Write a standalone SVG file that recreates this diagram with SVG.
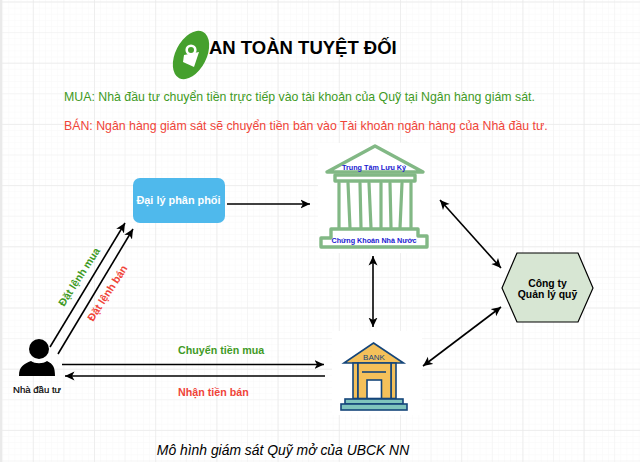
<svg xmlns="http://www.w3.org/2000/svg" width="640" height="462" viewBox="0 0 640 462">
<defs>
<pattern id="minor" width="6.12" height="6.12" patternUnits="userSpaceOnUse" x="2.2" y="1.5"><path d="M6.12 0H0V6.12" fill="none" stroke="#f8f8f8" stroke-width="1"/></pattern>
<pattern id="mid" width="30.6" height="30.6" patternUnits="userSpaceOnUse" x="2.2" y="1.500"><path d="M30.600 0H0V30.600" fill="none" stroke="#f0f0f0" stroke-width="1"/></pattern>
<pattern id="major" width="61.2" height="61.2" patternUnits="userSpaceOnUse" x="32.800" y="1.500"><path d="M61.200 0H0V61.200" fill="none" stroke="#e8e8e8" stroke-width="1"/></pattern>
<marker id="a" markerUnits="userSpaceOnUse" markerWidth="11" markerHeight="10" refX="9.500" refY="5" orient="auto-start-reverse"><path d="M0 0.500L9.500 5L0 9.500L2.500 5Z" fill="#000"/></marker>
</defs>
<style>
text{font-family:"Liberation Sans",Arial,sans-serif}
.b{font-weight:700}
.c{stroke:#000;stroke-width:1.6;fill:none;marker-end:url(#a)}
.d{marker-start:url(#a)}
.p{fill:#fff;stroke:#82b885;stroke-width:3.4;stroke-linejoin:round}
.q{fill:none;stroke:#82b885;stroke-width:3.2;stroke-linecap:round}
.u{fill:#f4c05a;stroke:#14457a;stroke-width:1.600}
.t{fill:#2020d0;font-size:7.200px;font-weight:700;text-anchor:middle}
.v{fill:#7fc4bd;stroke:#14457a;stroke-width:1.600}
</style>
<rect width="640" height="462" fill="#fff"/>
<rect width="640" height="462" fill="url(#minor)"/>
<rect width="640" height="462" fill="url(#mid)"/>
<rect width="640" height="462" fill="url(#major)"/>
<rect x="0" y="0" width="2" height="462" fill="#eaeaea"/>
<g id="title">
<ellipse cx="191" cy="55" rx="15.500" ry="26" transform="rotate(27 191 55)" fill="#45a02d"/>
<circle cx="191" cy="50" r="4.300" fill="none" stroke="#fff" stroke-width="2.600"/>
<path d="M184 55L199 52L194 67L183 62Z" fill="#fff"/>
<text x="209" y="53.500" class="b" font-size="18.500">AN TOÀN TUYỆT ĐỐI</text>
</g>
<g id="captions" font-size="12.330">
<text x="64" y="101" fill="#3f9a25">MUA: Nhà đầu tư chuyển tiền trực tiếp vào tài khoản của Quỹ tại Ngân hàng giám sát.</text>
<text x="64" y="130" fill="#f04438">BÁN: Ngân hàng giám sát sẽ chuyển tiền bán vào Tài khoản ngân hàng của Nhà đầu tư.</text>
</g>
<g id="trung-tam">
<rect x="318" y="143" width="112" height="110" fill="#fff"/>
<path class="p" d="M375 146L423 172H327Z"/>
<rect class="p" x="335" y="175" width="80" height="6"/>
<path class="q" d="M339 183V228M348 183L350 228M360 183L361 228M369 183L371 228M381 183L381 228M390 183L391 228M402 183L400 228M411 183L411 228"/>
<path class="p" d="M331 229H418V236H427V247H321V238H331Z"/>
<text class="t" x="374" y="170">Trung Tâm Lưu Ký</text>
<text class="t" x="374" y="243">Chứng Khoán Nhà Nước</text>
</g>
<g id="ngan-hang">
<rect x="332" y="331" width="90" height="84" fill="#fff"/>
<path class="u" d="M373.500 343L403.500 363H344Z"/>
<rect class="u" x="353" y="363" width="5" height="35.500"/>
<rect class="u" x="391" y="363" width="5" height="35.500"/>
<rect class="u" x="358" y="363" width="33" height="35.500"/>
<path d="M362 372H386" stroke="#14457a" stroke-width="1.600"/>
<rect x="367" y="380" width="14.500" height="18.500" fill="#fff" stroke="#14457a" stroke-width="1.600"/>
<rect class="v" x="345" y="399" width="58" height="5"/>
<rect class="v" x="341" y="404" width="66" height="6"/>
<text x="374" y="359.500" font-size="8" fill="#14457a" text-anchor="middle">BANK</text>
</g>
<g id="connectors">
<line class="c" x1="227" y1="204" x2="310" y2="204"/>
<line class="c" x1="50" y1="347" x2="125" y2="223"/>
<line class="c" x1="58" y1="354" x2="133" y2="229"/>
<line class="c d" x1="440" y1="200" x2="501" y2="268"/>
<line class="c d" x1="373" y1="256" x2="373" y2="327"/>
<line class="c d" x1="423" y1="366" x2="501" y2="307"/>
<line class="c" x1="62" y1="364.500" x2="324" y2="364.500"/>
<line class="c" x1="325" y1="376" x2="65" y2="376"/>
</g>
<g id="dai-ly">
<rect x="133" y="178" width="92" height="45" rx="7" fill="#4fb9ec"/>
<text x="178.500" y="204" class="b" font-size="10.900" fill="#fff" text-anchor="middle">Đại lý phân phối</text>
</g>
<g id="nha-dau-tu">
<circle cx="39" cy="349" r="10" fill="#000"/>
<path d="M19 376C19 366 24 364 31 361C35 364 43 364 47 361C53 364 55 367 55 376Z" fill="#000"/>
<text x="37" y="393" font-size="9.600" stroke="#000" stroke-width="0.200" text-anchor="middle">Nhà đầu tư</text>
</g>
<g id="cong-ty">
<path d="M517 253H578L593 288L578 322H517L502 288Z" fill="#d7e6d3" stroke="#000" stroke-width="1.200"/>
<text x="547.500" y="287" class="b" font-size="10.400" text-anchor="middle">Công ty</text>
<text x="547.500" y="298" class="b" font-size="10.400" text-anchor="middle">Quản lý quỹ</text>
</g>
<g id="labels" class="b" font-size="10.700">
<text transform="translate(64 307) rotate(-57)" fill="#3f9a25">Đặt lệnh mua</text>
<text transform="translate(93 322) rotate(-57)" fill="#f04438">Đặt lệnh bán</text>
<text x="178" y="354" fill="#3f9a25">Chuyển tiền mua</text>
<text x="178" y="396" fill="#f04438">Nhận tiền bán</text>
</g>
<text id="caption" x="283" y="454.500" font-size="13.900" font-style="italic" text-anchor="middle">Mô hình giám sát Quỹ mở của UBCK NN</text>
</svg>
